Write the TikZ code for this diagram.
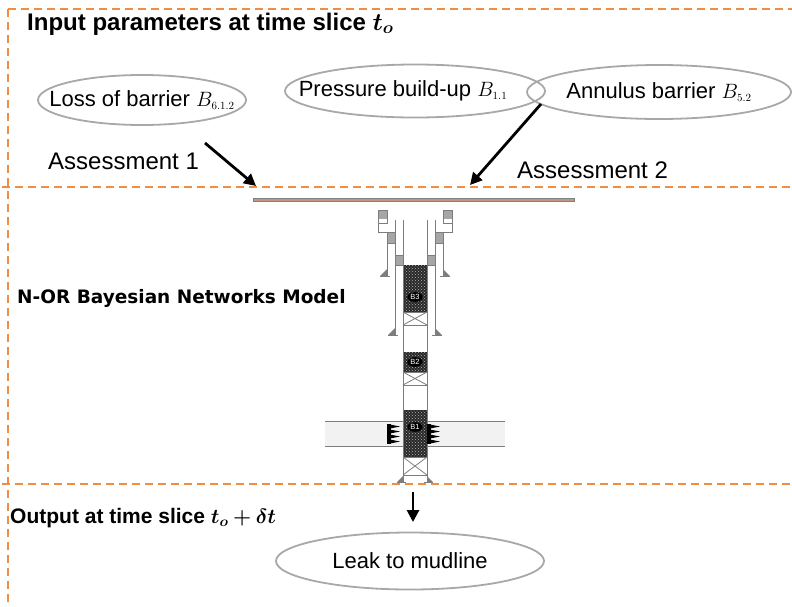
\documentclass[tikz,border=0pt]{standalone}
\usepackage{fontspec}
\setmainfont{Liberation Sans}
\newfontfamily\wideface{DejaVu Sans}
\usepackage{amsmath,bm}
\usetikzlibrary{arrows.meta,shapes.geometric,patterns}

\definecolor{sliceorange}{RGB}{240,140,70}
\definecolor{ovalgrey}{RGB}{168,168,168}
\definecolor{groundtan}{RGB}{195,150,130}
\definecolor{steelgrey}{RGB}{125,125,125}
\definecolor{cementdark}{RGB}{40,40,40}

% keep long labels from inflating their ellipse
\newcommand\ovallabel[1]{\makebox[0pt][c]{#1}}
\newcommand\bsub[2]{$#1_{\scriptscriptstyle #2}$}

\tikzset{
  slice/.style={draw=sliceorange, line width=1.2pt, dash pattern=on 8pt off 5pt},
  param/.style={ellipse, draw=ovalgrey, line width=1.8pt, inner sep=0pt,
    font=\fontsize{22}{24}\selectfont},
  flow/.style={line width=2.8pt, -{Triangle[length=12pt,width=12pt]}},
  heading/.style={anchor=west, inner sep=0pt, font=\bfseries\fontsize{24}{26}\selectfont},
  plain/.style={anchor=west, inner sep=0pt, font=\fontsize{24}{26}\selectfont},
  pipe/.style={draw=steelgrey, line width=1pt},
  hanger/.style={fill=gray!70, draw=steelgrey, line width=0.8pt},
  cement/.style={fill=cementdark, postaction={pattern=crosshatch dots, pattern color=gray!60}},
  xbox/.style={draw=steelgrey, line width=0.8pt},
  tag/.style={ellipse, fill=black, text=white, inner sep=0.8pt,
    font=\fontsize{7.5}{7.5}\selectfont},
}

\begin{document}
\begin{tikzpicture}[x=1pt,y=-1pt]
\useasboundingbox (0,0) rectangle (792,606);

% time-slice frames
\draw[slice] (8,9) -- (792,9);
\draw[slice] (8,9) -- (8,606);
\draw[slice] (2,187) -- (792,187);
\draw[slice] (2,484) -- (792,484);

% input slice
\node[heading] (intitle) at (27,24) {Input parameters at time slice $\bm{t_o}$};

\node[param, minimum width=208pt, minimum height=50pt] (loss) at (142,100)
  {\ovallabel{Loss of barrier \bsub{B}{6.1.2}}};
\node[param, minimum width=260pt, minimum height=53pt] (press) at (415,91)
  {\kern-12pt\ovallabel{Pressure build-up \bsub{B}{1.1}}\kern12pt};
\node[param, minimum width=264pt, minimum height=54pt] (annul) at (659,92)
  {\ovallabel{Annulus barrier \bsub{B}{5.2}}};

\node[plain] (as1) at (48,161) {Assessment 1};
\node[plain] (as2) at (517,170) {Assessment 2};

\coordinate (a1s) at (205,143);
\coordinate (a1e) at (256,186);
\coordinate (a2s) at (541,104);
\coordinate (a2e) at (470,185);
\draw[flow] (a1s) -- (a1e);
\draw[flow] (a2s) -- (a2e);

% model slice
\node[anchor=west, inner sep=0pt, font=\wideface\bfseries\fontsize{18.5}{20}\selectfont] (model) at (17,298) {N-OR Bayesian Networks Model};

% seabed
\draw[line width=4.5pt, draw=gray] (253,200) -- (575,200);
\draw[line width=2.5pt, draw=groundtan] (254,200) -- (574,200);

% formation band
\fill[gray!10] (325,421) rectangle (505,446);
\draw[pipe] (325,421) -- (505,421);
\draw[pipe] (325,446) -- (505,446);

% well: both sides mirrored about x = 415
\foreach \s in {1,-1}{
  \begin{scope}[shift={(415,0)}, xscale=\s]
    % outer string with wellhead housing
    \fill[gray!70] (-37,210) rectangle (-28,219);
    \draw[pipe] (-37,210) rectangle (-28,223);
    \draw[pipe] (-37,223) -- (-37,232) -- (-28,232);
    \draw[hanger] (-28,232) rectangle (-20,243);
    \draw[pipe] (-28,243) -- (-28,276);
    \fill[steelgrey] (-35,276) -- (-28,269) -- (-28,276) -- cycle;
    \draw[pipe] (-35,276) -- (-25,276);
    % intermediate string
    \draw[pipe] (-20,220) -- (-20,335);
    \fill[steelgrey] (-27,335) -- (-20,328) -- (-20,335) -- cycle;
    \draw[pipe] (-27,335) -- (-17,335);
    \draw[hanger] (-20,255) rectangle (-12,265);
    % production casing
    \draw[pipe] (-12,220) -- (-12,482);
    \fill[steelgrey] (-18,482) -- (-12,476) -- (-12,482) -- cycle;
    \draw[pipe] (-18,482) -- (-9,482);
  \end{scope}
}

% barrier plugs and spacers inside the casing
\path[cement] (403,265) rectangle (427,312);
\path[cement] (403,352) rectangle (427,372);
\path[cement] (403,410) rectangle (427,457);
\foreach \t/\b in {312/325, 372/385, 457/475}{
  \draw[xbox] (403,\t) rectangle (427,\b);
  \draw[xbox] (403,\t) -- (427,\b);
  \draw[xbox] (427,\t) -- (403,\b);
}
\draw[pipe] (403,220) -- (403,482);
\draw[pipe] (427,220) -- (427,482);

% perforations
\foreach \x in {387,427}{
  \fill[black] (\x,424) rectangle (\x+3.5,444);
  \foreach \y in {424.5,429.5,434.5,439.5}{
    \fill[black] (\x+3,\y) -- (\x+13,\y+2) -- (\x+3,\y+4) -- cycle;
  }
}

\node[tag] (b3) at (415,297) {B3};
\node[tag] (b2) at (415,362) {B2};
\node[tag] (b1) at (415,427) {B1};

% output slice
\node[heading, font=\bfseries\fontsize{21}{23}\selectfont] (outtitle) at (10,518) {Output at time slice $\bm{t_o + \delta t}$};
\node[param, minimum width=268pt, minimum height=57pt] (leak) at (410,561) {\ovallabel{Leak to mudline}};
\coordinate (os) at (413,492);
\coordinate (oe) at (413,522);
\draw[flow] (os) -- (oe);
\end{tikzpicture}
\end{document}
